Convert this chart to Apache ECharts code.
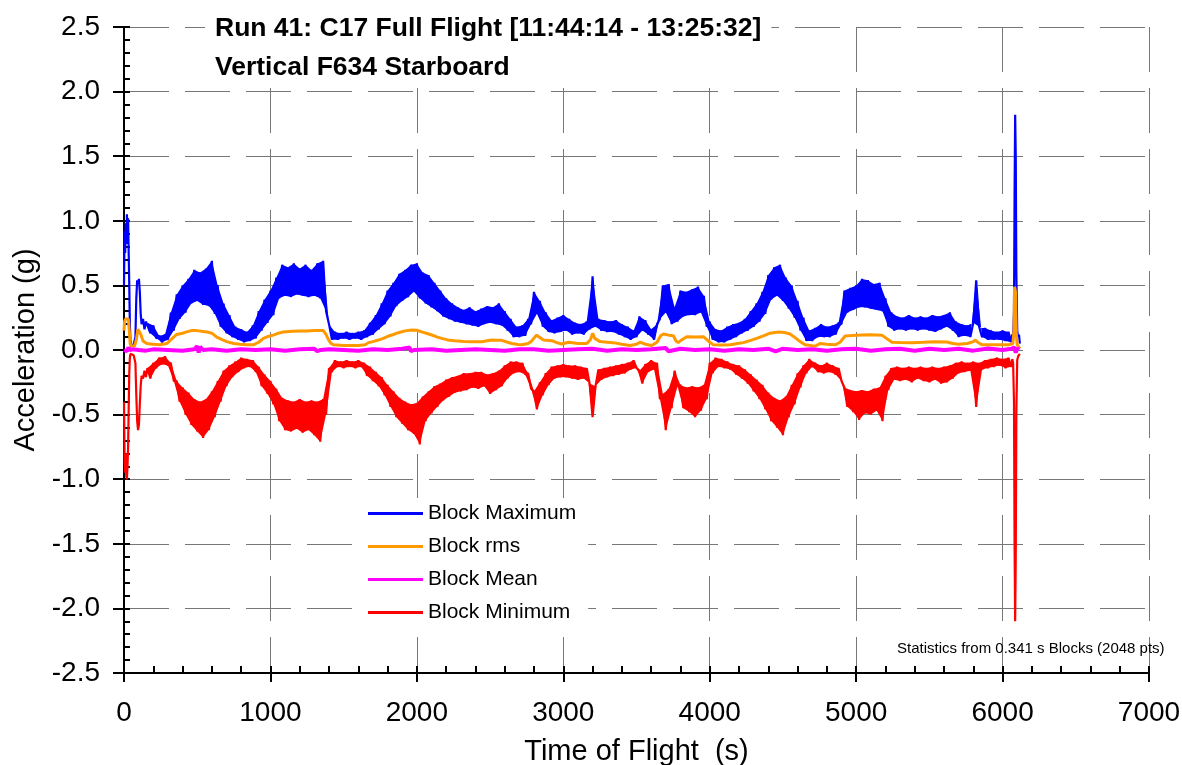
<!DOCTYPE html>
<html>
<head>
<meta charset="utf-8">
<script src="https://cdn.jsdelivr.net/npm/echarts@6/dist/echarts.min.js"></script>
<style>
html,body{margin:0;padding:0;background:#fff;}
#chart{width:1182px;height:765px;}
</style>
</head>
<body>
<div id="chart"></div>
<script>
// ---- data ----
const xTicks = [0, 1000, 2000, 3000, 4000, 5000, 6000, 7000];
const yTicks = [-2.5, -2.0, -1.5, -1.0, -0.5, 0.0, 0.5, 1.0, 1.5, 2.0, 2.5];
const seriesNames = ['Block Maximum', 'Block rms', 'Block Mean', 'Block Minimum'];

// In the noisy middle part (160 s .. 6060 s, 20 s apart) the readings alternate
// between the upper and the lower edge of the noise band.
const bandStart = 160, bandEnd = 6060, bandStep = 20;

const blockMax = [[0,.50],[4,.92],[8,.75],[12,.98],[16,.82],[20,1.05],[24,.88],[28,1.02],[32,.75],[36,.50],[40,.20],[44,.08],[48,.04],[52,.03],[56,.04],[60,.03],[66,.04],[72,.05],[78,.10],[84,.40],[90,.54],[96,.52],[102,.55],[108,.45],[114,.28],[120,.20],[130,.24],[140,.16],[150,.22],
[160,.21],[180,.13],[200,.19],[220,.09],[240,.11],[260,.06],[280,.12],[300,.08],[320,.29],[340,.15],[360,.43],[380,.24],[400,.50],[420,.29],[440,.55],[460,.36],[480,.62],[500,.38],[520,.60],[540,.35],[560,.63],[580,.34],[600,.69],[620,.28],[640,.50],[660,.18],[680,.36],[700,.13],[720,.27],[740,.10],[760,.18],[780,.08],[800,.16],[820,.06],[840,.14],[860,.07],[880,.19],[900,.09],[920,.30],[940,.15],[960,.39],[980,.21],[1000,.46],[1020,.27],[1040,.56],[1060,.40],[1080,.66],[1100,.42],[1120,.64],[1140,.41],[1160,.67],[1180,.43],[1200,.63],[1220,.42],[1240,.66],[1260,.41],[1280,.62],[1300,.42],[1320,.67],[1340,.40],[1360,.69],[1380,.30],[1400,.20],[1420,.08],[1440,.14],[1460,.08],[1480,.13],[1500,.09],[1520,.14],[1540,.08],[1560,.13],[1580,.09],[1600,.14],[1620,.08],[1640,.15],[1660,.10],[1680,.21],[1700,.12],[1720,.27],[1740,.16],[1760,.36],[1780,.20],[1800,.46],[1820,.26],[1840,.52],[1860,.34],[1880,.59],[1900,.38],[1920,.62],[1940,.41],[1960,.66],[1980,.45],[2000,.67],[2020,.40],[2040,.60],[2060,.36],[2080,.58],[2100,.33],[2120,.52],[2140,.30],[2160,.46],[2180,.26],[2200,.40],[2220,.24],[2240,.36],[2260,.22],[2280,.33],[2300,.21],[2320,.31],[2340,.20],[2360,.33],[2380,.19],[2400,.30],[2420,.18],[2440,.32],[2460,.20],[2480,.34],[2500,.21],[2520,.33],[2540,.20],[2560,.36],[2580,.19],[2600,.30],[2620,.15],[2640,.24],[2660,.10],[2680,.18],[2700,.10],[2720,.19],[2740,.11],[2760,.24],[2780,.20],[2800,.45],[2820,.28],[2840,.38],[2860,.18],[2880,.29],[2900,.14],[2920,.23],[2940,.13],[2960,.25],[2980,.14],[3000,.27],[3020,.15],[3040,.24],[3060,.12],[3080,.21],[3100,.13],[3120,.20],[3140,.12],[3160,.22],[3180,.16],[3200,.57],[3220,.18],[3240,.24],[3260,.15],[3280,.23],[3300,.14],[3320,.22],[3340,.14],[3360,.23],[3380,.12],[3400,.20],[3420,.10],[3440,.18],[3460,.08],[3480,.15],[3500,.10],[3520,.26],[3540,.15],[3560,.23],[3580,.12],[3600,.16],[3620,.08],[3640,.20],[3660,.24],[3680,.50],[3700,.29],[3720,.51],[3740,.20],[3760,.33],[3780,.22],[3800,.46],[3820,.26],[3840,.45],[3860,.27],[3880,.47],[3900,.27],[3920,.49],[3940,.29],[3960,.42],[3980,.18],[4000,.22],[4020,.08],[4040,.16],[4060,.06],[4080,.15],[4100,.06],[4120,.18],[4140,.08],[4160,.20],[4180,.10],[4200,.21],[4220,.13],[4240,.24],[4260,.15],[4280,.30],[4300,.18],[4320,.36],[4340,.22],[4360,.45],[4380,.28],[4400,.58],[4420,.39],[4440,.64],[4460,.42],[4480,.66],[4500,.38],[4520,.56],[4540,.32],[4560,.50],[4580,.25],[4600,.38],[4620,.15],[4640,.25],[4660,.07],[4680,.15],[4700,.07],[4720,.17],[4740,.10],[4760,.20],[4780,.10],[4800,.18],[4820,.10],[4840,.19],[4860,.12],[4880,.21],[4900,.20],[4920,.46],[4940,.29],[4960,.48],[4980,.31],[5000,.50],[5020,.33],[5040,.55],[5060,.33],[5080,.54],[5100,.32],[5120,.51],[5140,.31],[5160,.52],[5180,.30],[5200,.40],[5220,.18],[5240,.29],[5260,.15],[5280,.26],[5300,.16],[5320,.25],[5340,.15],[5360,.27],[5380,.16],[5400,.25],[5420,.15],[5440,.26],[5460,.16],[5480,.25],[5500,.15],[5520,.27],[5540,.14],[5560,.26],[5580,.16],[5600,.27],[5620,.18],[5640,.29],[5660,.15],[5680,.22],[5700,.10],[5720,.20],[5740,.11],[5760,.19],[5780,.10],[5800,.21],[5820,.54],[5840,.18],[5860,.10],[5880,.17],[5900,.08],[5920,.15],[5940,.08],[5960,.14],[5980,.08],[6000,.15],[6020,.07],[6040,.14],[6060,.06],[6066,.12],[6072,.08],[6078,.30],[6082,1.20],[6086,1.82],[6090,1.50],[6094,.60],[6100,.15],[6106,.10],[6112,.12],[6118,.05]];

const blockMin = [[0,-.40],[4,-.85],[8,-.95],[12,-.80],[16,-.98],[20,-1.00],[24,-.90],[28,-.75],[32,-.45],[36,-.18],[40,-.06],[44,-.03],[48,-.03],[52,-.04],[56,-.03],[60,-.03],[66,-.04],[72,-.05],[78,-.10],[84,-.35],[90,-.55],[96,-.62],[102,-.58],[108,-.42],[114,-.28],[120,-.20],[130,-.22],[140,-.16],[150,-.21],
[160,-.14],[180,-.22],[200,-.10],[220,-.14],[240,-.06],[260,-.11],[280,-.05],[300,-.12],[320,-.10],[340,-.24],[360,-.24],[380,-.40],[400,-.29],[420,-.50],[440,-.33],[460,-.58],[480,-.38],[500,-.63],[520,-.40],[540,-.68],[560,-.38],[580,-.62],[600,-.32],[620,-.52],[640,-.24],[660,-.40],[680,-.16],[700,-.28],[720,-.12],[740,-.21],[760,-.09],[780,-.17],[800,-.06],[820,-.14],[840,-.07],[860,-.13],[880,-.08],[900,-.17],[920,-.13],[940,-.28],[960,-.19],[980,-.34],[1000,-.24],[1020,-.42],[1040,-.30],[1060,-.55],[1080,-.37],[1100,-.62],[1120,-.39],[1140,-.63],[1160,-.40],[1180,-.61],[1200,-.38],[1220,-.64],[1240,-.40],[1260,-.62],[1280,-.39],[1300,-.66],[1320,-.40],[1340,-.71],[1360,-.38],[1380,-.50],[1400,-.14],[1420,-.17],[1440,-.08],[1460,-.13],[1480,-.09],[1500,-.14],[1520,-.08],[1540,-.13],[1560,-.09],[1580,-.14],[1600,-.08],[1620,-.13],[1640,-.10],[1660,-.20],[1680,-.13],[1700,-.24],[1720,-.17],[1740,-.28],[1760,-.21],[1780,-.35],[1800,-.27],[1820,-.44],[1840,-.32],[1860,-.52],[1880,-.37],[1900,-.57],[1920,-.40],[1940,-.62],[1960,-.42],[1980,-.65],[2000,-.41],[2020,-.73],[2040,-.36],[2060,-.55],[2080,-.32],[2100,-.49],[2120,-.28],[2140,-.44],[2160,-.26],[2180,-.39],[2200,-.23],[2220,-.36],[2240,-.21],[2260,-.33],[2280,-.20],[2300,-.32],[2320,-.18],[2340,-.31],[2360,-.18],[2380,-.29],[2400,-.17],[2420,-.30],[2440,-.17],[2460,-.28],[2480,-.19],[2500,-.34],[2520,-.18],[2540,-.31],[2560,-.16],[2580,-.28],[2600,-.12],[2620,-.22],[2640,-.09],[2660,-.18],[2680,-.09],[2700,-.17],[2720,-.10],[2740,-.19],[2760,-.18],[2780,-.30],[2800,-.32],[2820,-.46],[2840,-.25],[2860,-.35],[2880,-.18],[2900,-.27],[2920,-.13],[2940,-.22],[2960,-.12],[2980,-.21],[3000,-.11],[3020,-.21],[3040,-.12],[3060,-.22],[3080,-.12],[3100,-.23],[3120,-.13],[3140,-.22],[3160,-.14],[3180,-.26],[3200,-.52],[3220,-.28],[3240,-.15],[3260,-.23],[3280,-.14],[3300,-.21],[3320,-.13],[3340,-.20],[3360,-.12],[3380,-.19],[3400,-.11],[3420,-.18],[3440,-.10],[3460,-.15],[3480,-.08],[3500,-.14],[3520,-.16],[3540,-.26],[3560,-.11],[3580,-.17],[3600,-.08],[3620,-.15],[3640,-.10],[3660,-.38],[3680,-.34],[3700,-.62],[3720,-.30],[3740,-.45],[3760,-.16],[3780,-.28],[3800,-.27],[3820,-.45],[3840,-.29],[3860,-.48],[3880,-.28],[3900,-.52],[3920,-.29],[3940,-.47],[3960,-.27],[3980,-.38],[4000,-.10],[4020,-.18],[4040,-.06],[4060,-.13],[4080,-.07],[4100,-.14],[4120,-.09],[4140,-.15],[4160,-.11],[4180,-.19],[4200,-.12],[4220,-.22],[4240,-.15],[4260,-.26],[4280,-.19],[4300,-.32],[4320,-.23],[4340,-.38],[4360,-.27],[4380,-.46],[4400,-.33],[4420,-.55],[4440,-.37],[4460,-.60],[4480,-.39],[4500,-.66],[4520,-.36],[4540,-.52],[4560,-.27],[4580,-.42],[4600,-.18],[4620,-.29],[4640,-.12],[4660,-.18],[4680,-.07],[4700,-.13],[4720,-.10],[4740,-.17],[4760,-.12],[4780,-.18],[4800,-.10],[4820,-.17],[4840,-.12],[4860,-.19],[4880,-.14],[4900,-.24],[4920,-.29],[4940,-.44],[4960,-.31],[4980,-.48],[5000,-.32],[5020,-.54],[5040,-.31],[5060,-.49],[5080,-.32],[5100,-.50],[5120,-.30],[5140,-.47],[5160,-.29],[5180,-.55],[5200,-.20],[5220,-.31],[5240,-.14],[5260,-.23],[5280,-.13],[5300,-.24],[5320,-.14],[5340,-.23],[5360,-.13],[5380,-.25],[5400,-.14],[5420,-.22],[5440,-.13],[5460,-.24],[5480,-.14],[5500,-.25],[5520,-.13],[5540,-.23],[5560,-.14],[5580,-.26],[5600,-.13],[5620,-.25],[5640,-.12],[5660,-.22],[5680,-.10],[5700,-.18],[5720,-.09],[5740,-.17],[5760,-.10],[5780,-.16],[5800,-.09],[5820,-.44],[5840,-.10],[5860,-.15],[5880,-.08],[5900,-.14],[5920,-.07],[5940,-.13],[5960,-.06],[5980,-.12],[6000,-.07],[6020,-.14],[6040,-.06],[6060,-.13],[6066,-.07],[6072,-.10],[6078,-.40],[6082,-1.50],[6086,-2.10],[6090,-1.60],[6094,-.50],[6100,-.08],[6106,-.05],[6112,-.06],[6118,-.03]];

const blockRms = [[0,.15],[4,.22],[10,.24],[20,.25],[30,.24],[36,.15],[42,.05],[50,.03],[60,.03],[72,.03],[84,.08],[95,.16],[105,.17],[115,.12],[130,.07],[155,.05],[200,.045],[246,.04],[292,.05],[330,.09],[360,.12],[400,.13],[428,.14],[460,.15],[496,.15],[530,.145],[565,.14],[600,.13],[633,.10],[670,.08],[701,.065],[750,.05],[792,.045],[840,.04],[883,.04],[920,.06],[952,.09],[985,.105],[1020,.115],[1055,.13],[1088,.14],[1150,.145],[1200,.147],[1248,.147],[1300,.15],[1361,.15],[1380,.12],[1396,.08],[1415,.05],[1430,.04],[1500,.035],[1600,.035],[1647,.04],[1669,.057],[1700,.065],[1738,.077],[1770,.09],[1806,.108],[1840,.12],[1874,.134],[1920,.148],[1965,.155],[2000,.153],[2033,.14],[2070,.128],[2102,.116],[2140,.10],[2170,.09],[2210,.078],[2261,.072],[2320,.066],[2375,.064],[2444,.064],[2480,.072],[2512,.077],[2550,.075],[2580,.075],[2620,.06],[2649,.05],[2690,.042],[2717,.04],[2760,.05],[2785,.07],[2805,.10],[2819,.116],[2835,.10],[2865,.077],[2922,.072],[2960,.055],[2990,.046],[3036,.06],[3100,.05],[3160,.05],[3185,.08],[3201,.13],[3215,.09],[3251,.065],[3300,.06],[3342,.057],[3400,.045],[3456,.035],[3500,.045],[3524,.06],[3560,.045],[3604,.035],[3640,.06],[3665,.11],[3684,.124],[3720,.115],[3752,.11],[3770,.07],[3785,.057],[3810,.08],[3843,.103],[3900,.10],[3957,.103],[3990,.07],[4025,.04],[4080,.038],[4139,.04],[4190,.05],[4230,.057],[4280,.075],[4321,.09],[4367,.11],[4412,.13],[4469,.14],[4510,.135],[4549,.124],[4590,.09],[4617,.065],[4651,.04],[4720,.03],[4754,.05],[4800,.045],[4857,.04],[4890,.06],[4925,.108],[5000,.114],[5039,.116],[5100,.118],[5176,.115],[5220,.08],[5244,.06],[5300,.058],[5381,.057],[5460,.06],[5540,.064],[5620,.062],[5660,.05],[5700,.044],[5760,.05],[5800,.065],[5814,.077],[5830,.06],[5859,.04],[5950,.04],[6041,.04],[6070,.05],[6078,.15],[6082,.49],[6088,.45],[6094,.12],[6100,.04],[6112,.02],[6118,.01]];

const blockMean = [[0,0.0],[10,0.01],[20,-0.01],[30,0.02],[40,0.0],[60,0.005],[100,0.0],[150,-0.005],[200,0.005],[300,0.0],[400,-0.005],[480,0.005],[500,0.03],[510,-0.02],[520,0.025],[540,0.0],[600,0.005],[700,-0.005],[800,0.005],[900,0.0],[1000,0.005],[1100,-0.005],[1200,0.005],[1300,0.01],[1320,-0.01],[1340,0.0],[1400,0.005],[1500,0.0],[1600,-0.005],[1700,0.005],[1800,0.0],[1900,0.01],[1950,0.02],[1960,-0.01],[1980,0.0],[2100,0.005],[2200,-0.005],[2300,0.0],[2400,0.005],[2500,0.0],[2600,-0.005],[2700,0.005],[2800,0.005],[2900,-0.005],[3000,0.0],[3100,0.005],[3200,0.01],[3300,-0.005],[3400,0.005],[3500,0.0],[3600,0.005],[3700,0.015],[3720,-0.01],[3800,0.01],[3900,0.0],[4000,0.005],[4100,-0.005],[4200,0.005],[4300,0.0],[4400,0.01],[4450,-0.01],[4500,0.01],[4600,0.0],[4700,0.005],[4800,-0.005],[4900,0.005],[5000,0.01],[5100,-0.005],[5200,0.005],[5300,0.01],[5400,-0.005],[5500,0.01],[5600,0.0],[5700,0.01],[5800,-0.005],[5900,0.012],[6000,0.0],[6060,0.01],[6080,0.02],[6090,-0.02],[6100,0.015],[6110,0.0]];

const FONT = '"Liberation Sans", Arial, Helvetica, sans-serif';
const COLORS = ['#0000ff', '#ff9900', '#ff00ff', '#ff0000'];

const chart = echarts.init(document.getElementById('chart'), null, {renderer: 'canvas'});

const tickStyle = {color: '#000', width: 2};
const gridLine = {color: '#777', width: 1, type: [45, 16]};

// Noise band: fills between the upper-edge and lower-edge readings, through the axes' scales.
function bandSeries(data, color) {
  return {
    type: 'custom', coordinateSystem: 'cartesian2d', silent: true, z: 1,
    data: [[bandStart, 0]],
    renderItem: function (params, api) {
      const upper = [], lower = [];
      data.forEach(function (p) {
        if (p[0] < bandStart || p[0] > bandEnd) return;
        const k = Math.round((p[0] - bandStart) / bandStep);
        (k % 2 === 0 ? upper : lower).push(api.coord(p));
      });
      return {
        type: 'polygon',
        shape: {points: upper.concat(lower.reverse())},
        style: {fill: color, stroke: null}
      };
    }
  };
}

const option = {
  animation: false,
  backgroundColor: '#fff',
  grid: {left: 124, right: 33, top: 27, bottom: 92, containLabel: false, outerBoundsMode: 'none'},
  title: {
    text: 'Run 41: C17 Full Flight [11:44:14 - 13:25:32]\nVertical F634 Starboard',
    left: 205, top: 8,
    padding: [1, 10, 1, 10],
    backgroundColor: '#fff',
    textStyle: {fontSize: 26.5, fontWeight: 'bold', lineHeight: 39, color: '#000', fontFamily: FONT}
  },
  legend: {
    orient: 'vertical', left: 363, top: 498,
    itemWidth: 55, itemHeight: 3, itemGap: 12,
    icon: 'rect',
    backgroundColor: '#fff',
    padding: [5, 12, 5, 5],
    textStyle: {fontSize: 21, color: '#000', fontFamily: FONT},
    data: seriesNames
  },
  graphic: [{
    type: 'text', left: 897, top: 641, z: 100,
    style: {text: 'Statistics from 0.341 s Blocks (2048 pts)', font: '15px ' + FONT, fill: '#000'}
  }],
  xAxis: [{
    type: 'value', min: xTicks[0], max: xTicks[xTicks.length - 1], interval: 1000,
    position: 'bottom',
    axisLine: {show: true, onZero: false, lineStyle: tickStyle},
    axisTick: {show: true, inside: true, length: 7, lineStyle: tickStyle},
    minorTick: {show: true, splitNumber: 5, length: 7, lineStyle: tickStyle},
    axisLabel: {fontSize: 28, color: '#000', margin: 26, fontFamily: FONT,
      formatter: v => String(v)},
    splitLine: {show: true, lineStyle: gridLine},
    name: 'Time of Flight  (s)', nameLocation: 'middle', nameGap: 64,
    nameTextStyle: {fontSize: 29, color: '#000', fontFamily: FONT}
  }, {
    type: 'value', min: xTicks[0], max: xTicks[xTicks.length - 1], interval: 1000,
    position: 'bottom',
    axisLine: {show: false, onZero: false},
    axisTick: {show: true, inside: false, length: 9, lineStyle: tickStyle},
    axisLabel: {show: false},
    splitLine: {show: false}
  }],
  yAxis: [{
    type: 'value', min: yTicks[0], max: yTicks[yTicks.length - 1], interval: 0.5,
    position: 'left',
    axisLine: {show: true, onZero: false, lineStyle: tickStyle},
    axisTick: {show: true, inside: true, length: 6, lineStyle: tickStyle},
    minorTick: {show: true, splitNumber: 5, length: 6, lineStyle: tickStyle},
    axisLabel: {fontSize: 28, color: '#000', margin: 24, fontFamily: FONT,
      formatter: v => v.toFixed(1)},
    splitLine: {show: true, lineStyle: gridLine},
    name: 'Acceleration (g)', nameLocation: 'middle', nameGap: 74,
    nameTextStyle: {fontSize: 29, color: '#000', fontFamily: FONT}
  }, {
    type: 'value', min: yTicks[0], max: yTicks[yTicks.length - 1], interval: 0.5,
    position: 'left',
    axisLine: {show: false, onZero: false},
    axisTick: {show: true, inside: false, length: 11, lineStyle: tickStyle},
    axisLabel: {show: false},
    splitLine: {show: false}
  }],
  series: [
    bandSeries(blockMax, COLORS[0]),
    bandSeries(blockMin, COLORS[3]),
    {name: seriesNames[0], type: 'line', data: blockMax, showSymbol: false, symbol: 'none',
      lineStyle: {color: COLORS[0], width: 2.2}, itemStyle: {color: COLORS[0]}, z: 2},
    {name: seriesNames[1], type: 'line', data: blockRms, showSymbol: false, symbol: 'none',
      lineStyle: {color: COLORS[1], width: 3}, itemStyle: {color: COLORS[1]}, z: 3},
    {name: seriesNames[2], type: 'line', data: blockMean, showSymbol: false, symbol: 'none',
      lineStyle: {color: COLORS[2], width: 4}, itemStyle: {color: COLORS[2]}, z: 4},
    {name: seriesNames[3], type: 'line', data: blockMin, showSymbol: false, symbol: 'none',
      lineStyle: {color: COLORS[3], width: 2.2}, itemStyle: {color: COLORS[3]}, z: 5}
  ]
};
chart.setOption(option);
</script>
</body>
</html>
